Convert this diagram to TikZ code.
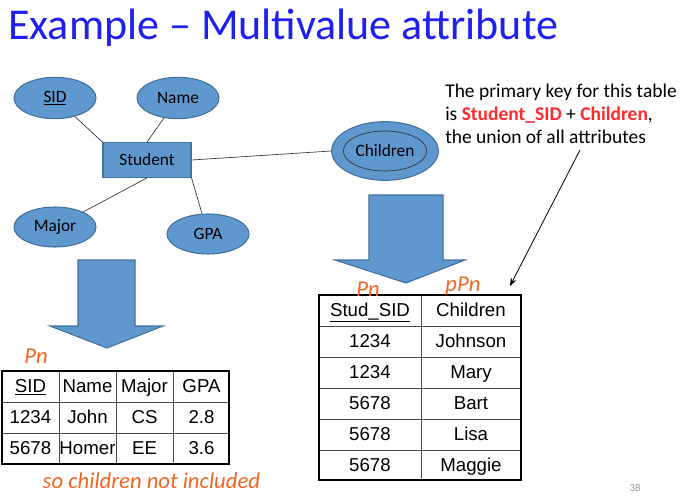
\documentclass[tikz,border=0pt]{standalone}
\usepackage{fontspec}
\setmainfont{Carlito}
\newfontfamily\arial{Liberation Sans}
\usetikzlibrary{shapes.geometric,arrows.meta}
\definecolor{efill}{HTML}{5F97CF}
\definecolor{edraw}{HTML}{41719C}
\definecolor{ink}{HTML}{F26522}
\definecolor{titleblue}{HTML}{1F1FF0}
\definecolor{keyred}{HTML}{FF2A2A}
\tikzset{
 attr/.style={ellipse,fill=efill,draw=edraw,line width=0.8pt,inner sep=0pt,font=\fontsize{13}{15}\selectfont},
 link/.style={draw=black!80,line width=0.5pt},
 bigarrow/.style={fill=efill,draw=edraw,line width=0.8pt},
 cell/.style={font=\arial\fontsize{14}{16}\selectfont,text height=10.5pt,text depth=3pt,inner sep=1pt},
 grid/.style={line width=0.6pt,draw=black!70},
 frame/.style={line width=1.6pt},
 hand/.style={text=ink,font=\itshape\fontsize{17}{18}\selectfont}
}
\begin{document}
\begin{tikzpicture}[x=0.75pt,y=-0.75pt]
\useasboundingbox (0,0) rectangle (690,496);
\node[anchor=base west,text=titleblue,font=\fontsize{33}{36}\selectfont,inner sep=0] (title) at (8,40) {Example -- Multivalue attribute};
% ER
\node[attr,minimum width=61.5pt,minimum height=31pt] (sid) at (55,98) {\underline{SID}};
\node[attr,minimum width=61.5pt,minimum height=31pt] (name) at (178,98) {Name};
\node[attr,minimum width=61.5pt,minimum height=30pt] (major) at (55,227) {Major};
\node[attr,minimum width=61.5pt,minimum height=30pt] (gpa) at (208,234) {GPA};
\node[rectangle,fill=efill,draw=edraw,line width=0.8pt,minimum width=66pt,minimum height=26pt,font=\fontsize{13}{15}\selectfont] (student) at (147,160) {Student};
\node[attr,minimum width=80pt,minimum height=44pt] (childo) at (385,151) {};
\node[ellipse,draw=black!80,line width=0.5pt,minimum width=61pt,minimum height=30pt,inner sep=0pt,font=\fontsize{13}{15}\selectfont] (childi) at (385,151) {Children};
\draw[link] (sid) -- (student.north west);
\draw[link] (name) -- (student.north);
\draw[link] (major) -- (student.south);
\draw[link] (gpa) -- (student.south east);
\draw[link] (student.east) -- (childo.west);
% arrows
\draw[bigarrow] (369,195) -- (443,195) -- (443,260) -- (465,260) -- (406,283) -- (335,260) -- (369,260) -- cycle;
\draw[bigarrow] (78,260) -- (135,260) -- (135,326) -- (163,326) -- (107,348) -- (50,326) -- (78,326) -- cycle;
% note
\node[anchor=north west,align=left,inner sep=0,font=\fontsize{14.6}{17.3}\selectfont] (note) at (445,84) {The primary key for this table\\ is \textbf{\textcolor{keyred}{Student\_SID}} + \textbf{\textcolor{keyred}{Children}},\\ the union of all attributes};
\coordinate (tip) at (510,286);
\draw[-{Stealth[length=6pt]},line width=0.6pt] (580,150) -- (tip);
% left table
\draw[grid] (2,402) -- (229,402) (2,433) -- (229,433);
\draw[grid] (59,371) -- (59,464) (116,371) -- (116,464) (173,371) -- (173,464);
\draw[frame] (2,371) rectangle (229,464);
\foreach \t [count=\i] in {\underline{SID},Name,Major,GPA}
  \node[cell] (lh\i) at ({2+57*(\i-1)+28.5},387) {\t};
\foreach \t [count=\i] in {1234,John,CS,2.8}
  \node[cell] (la\i) at ({2+57*(\i-1)+28.5},418) {\t};
\foreach \t [count=\i] in {5678,Homer,EE,3.6}
  \node[cell] (lb\i) at ({2+57*(\i-1)+28.5},449) {\t};
% right table
\foreach \y in {326,357,388,419,450} \draw[grid] (319,\y) -- (521,\y);
\draw[grid] (421,295) -- (421,480);
\draw[frame] (319,295) rectangle (521,480);
\node[cell] (rh1) at (370,311) {\underline{Stud\_SID}};
\node[cell] (rh2) at (471,311) {Children};
\foreach \a/\b [count=\i] in {1234/Johnson,1234/Mary,5678/Bart,5678/Lisa,5678/Maggie}{
  \node[cell] (ra\i) at (370,{311+31*\i}) {\a};
  \node[cell] (rb\i) at (471,{311+31*\i}) {\b};
}
% handwriting
\node[hand] (pn1) at (36,356) {Pn};
\node[hand] (pn2) at (368,289) {Pn};
\node[hand] (pn3) at (463,286) {pPn};
\node[hand,anchor=west] (hnote) at (38,481) {so children not included};
\node[text=black!40,font=\fontsize{8}{9}\selectfont] (pg) at (635,488) {38};
\end{tikzpicture}
\end{document}
